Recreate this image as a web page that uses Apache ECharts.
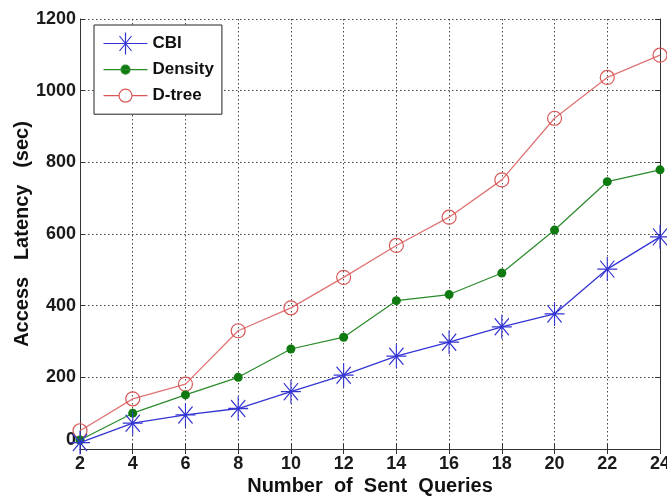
<!DOCTYPE html>
<html>
<head>
<meta charset="utf-8">
<script src="https://cdn.jsdelivr.net/npm/echarts@6/dist/echarts.min.js"></script>
<style>
  html, body { margin: 0; padding: 0; background: #fff; }
  #chart { width: 667px; height: 497px; }
</style>
</head>
<body>
<div id="chart"></div>
<script>
// Access latency (sec) versus number of sent queries
const queries = [2, 4, 6, 8, 10, 12, 14, 16, 18, 20, 22, 24];
const cbi     = [18, 72, 95, 113, 160, 206, 259, 298, 341, 377, 502, 592];
const density = [25, 100, 151, 200, 279, 312, 414, 431, 491, 611, 746, 779];
const dtree   = [51, 140, 181, 330, 394, 479, 568, 647, 751, 923, 1037, 1099];

const xTicks = { min: 2, max: 24, step: 2 };
const yTicks = { min: 0, max: 1200, step: 200 };

const FONT = '"Liberation Sans", Arial, sans-serif';
const BLUE = '#3434d4';
const GREEN = '#2a8a2a';
const DARK_GREEN = '#0f7a0f';
const RED = '#e07474';
const RED_MARK = '#d85858';

// asterisk marker made of strokes (horizontal, vertical, two diagonals)
const ASTERISK = 'path://M0,10L20,10M10,0L10,20M2.9,2.9L17.1,17.1M17.1,2.9L2.9,17.1';

// legend icons: a short line with the series marker in the middle;
// the zero-length corner segments pin the icon box to 44x24
const BOX = 'M0,0L0,0M44,24L44,24';
const LEG_CBI = 'path://' + BOX + 'M0,12L44,12M13.5,12L30.5,12M22,1L22,23M16,4.5L28,19.5M28,4.5L16,19.5';
const LEG_DEN = 'path://' + BOX + 'M0,12L44,12M26.5,12A4.5,4.5,0,1,1,17.5,12A4.5,4.5,0,1,1,26.5,12Z';
const LEG_DTR = 'path://' + BOX + 'M0,12L15.5,12M28.5,12L44,12M28.5,12A6.5,6.5,0,1,1,15.5,12A6.5,6.5,0,1,1,28.5,12Z';

const pairs = (ys) => queries.map((q, i) => [q, ys[i]]);

const chart = echarts.init(document.getElementById('chart'), null, { renderer: 'canvas' });

const gridLine = { show: true, lineStyle: { color: '#444', width: 1, type: [1.5, 2.5] } };
const frameLine = { show: true, lineStyle: { color: '#333', width: 1 } };
const innerTick = { show: true, inside: true, length: 5, lineStyle: { color: '#333', width: 1 } };
const nameFont = { fontFamily: FONT, fontSize: 20, fontWeight: 'bold', color: '#111' };

chart.setOption({
  animation: false,
  backgroundColor: '#fff',
  grid: { left: 80, right: 7, top: 19, bottom: 48, outerBoundsMode: 'none', containLabel: false },
  legend: {
    orient: 'vertical',
    left: 94, top: 25,
    padding: [4, 8, 4, 7],
    itemWidth: 44, itemHeight: 24,
    itemGap: -1,
    backgroundColor: '#fff',
    borderColor: '#222', borderWidth: 1,
    textStyle: { fontFamily: FONT, fontSize: 17, fontWeight: 'bold', color: '#111' },
    data: [
      { name: 'CBI', icon: LEG_CBI, itemStyle: { color: 'none', borderColor: BLUE, borderWidth: 1.2 } },
      { name: 'Density', icon: LEG_DEN, itemStyle: { color: DARK_GREEN, borderColor: GREEN, borderWidth: 1.2 } },
      { name: 'D-tree', icon: LEG_DTR, itemStyle: { color: 'none', borderColor: RED_MARK, borderWidth: 1.2 } }
    ]
  },
  xAxis: [
    {
      type: 'value', min: xTicks.min, max: xTicks.max, interval: xTicks.step,
      position: 'bottom',
      axisLine: frameLine, axisTick: innerTick, splitLine: gridLine,
      axisLabel: { fontFamily: FONT, fontSize: 18, fontWeight: 'bold', color: '#1a1a1a', margin: 6,
                   showMinLabel: true, showMaxLabel: true },
      name: 'Number  of  Sent  Queries', nameLocation: 'middle', nameGap: 27, nameMoveOverlap: false,
      nameTextStyle: nameFont
    },
    {
      type: 'value', min: xTicks.min, max: xTicks.max, interval: xTicks.step,
      position: 'top',
      axisLine: frameLine, axisTick: innerTick, splitLine: { show: false }, axisLabel: { show: false }
    }
  ],
  yAxis: [
    {
      type: 'value', min: yTicks.min, max: yTicks.max, interval: yTicks.step,
      position: 'left',
      axisLine: frameLine, axisTick: innerTick, splitLine: gridLine,
      axisLabel: { fontFamily: FONT, fontSize: 18, fontWeight: 'bold', color: '#1a1a1a', margin: 4,
                   formatter: (v) => String(v), verticalAlignMinLabel: 'bottom' },
      name: 'Access   Latency   (sec)', nameLocation: 'middle', nameGap: 48, nameRotate: 90,
      nameMoveOverlap: false,
      nameTextStyle: nameFont
    },
    {
      type: 'value', min: yTicks.min, max: yTicks.max, interval: yTicks.step,
      position: 'right',
      axisLine: frameLine, axisTick: innerTick, splitLine: { show: false }, axisLabel: { show: false }
    }
  ],
  series: [
    {
      name: 'CBI', type: 'line', data: pairs(cbi),
      symbol: ASTERISK, symbolSize: [20, 24], symbolKeepAspect: false,
      lineStyle: { color: BLUE, width: 1.3 },
      itemStyle: { color: 'none', borderColor: BLUE, borderWidth: 1.2 },
      z: 4
    },
    {
      name: 'Density', type: 'line', data: pairs(density),
      symbol: 'circle', symbolSize: 9,
      lineStyle: { color: GREEN, width: 1.2 },
      itemStyle: { color: DARK_GREEN, borderColor: DARK_GREEN, borderWidth: 0 },
      z: 3
    },
    {
      name: 'D-tree', type: 'line', data: pairs(dtree),
      symbol: 'circle', symbolSize: 14,
      lineStyle: { color: RED, width: 1.3 },
      itemStyle: { color: 'none', borderColor: RED_MARK, borderWidth: 1.2 },
      z: 2
    }
  ]
});
</script>
</body>
</html>
